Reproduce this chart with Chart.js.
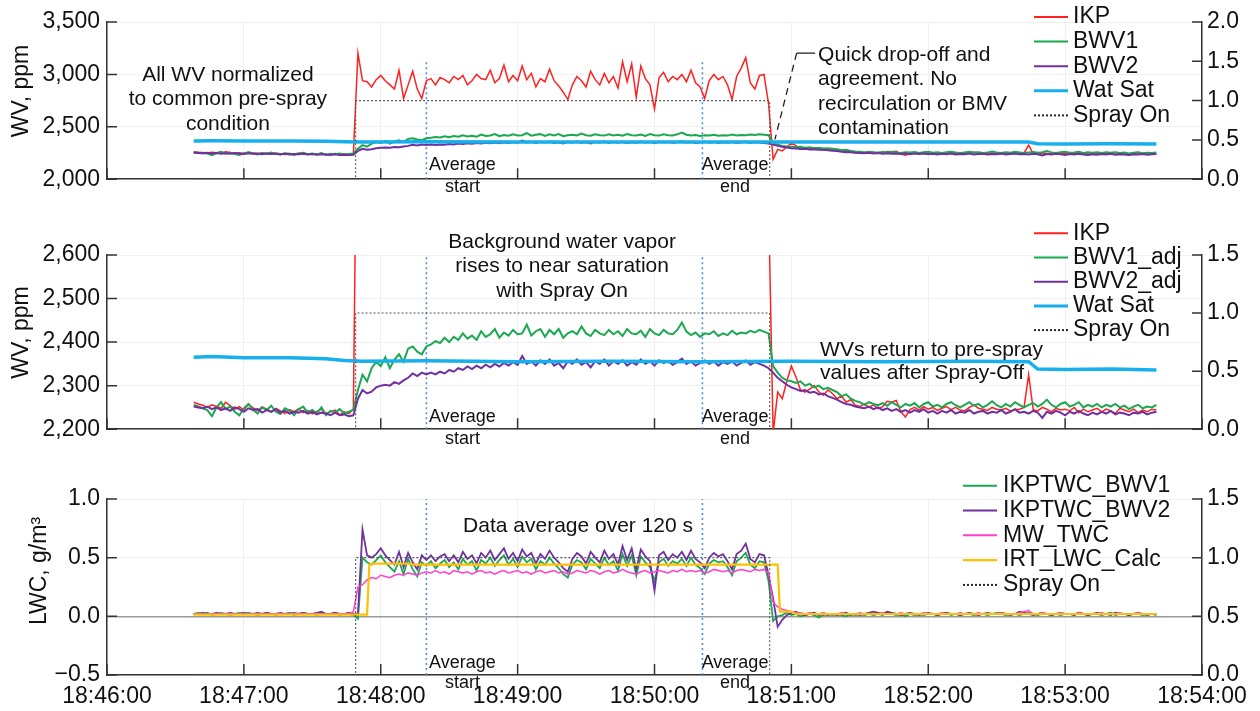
<!DOCTYPE html>
<html>
<head>
<meta charset="utf-8">
<script src="https://cdn.jsdelivr.net/npm/chart.js"></script>
<style>
  body { margin: 0; background: #fff; width: 1260px; height: 711px; overflow: hidden; position: relative; }
  canvas { position: absolute; left: 0; }
</style>
</head>
<body>
<canvas id="c1" width="1260" height="200" style="top:0px"></canvas>
<canvas id="c2" width="1260" height="250" style="top:200px"></canvas>
<canvas id="c3" width="1260" height="261" style="top:450px"></canvas>
<script>
// seconds after 18:46:00
const T = [
  38,40,42,44,46,48,50,52,54,56,
  58,60,62,64,66,68,70,72,74,76,
  78,80,82,84,86,88,90,92,94,96,
  98,100,102,104,106,108,110,112,114,116,
  118,120,122,124,126,128,130,132,134,136,
  138,140,142,144,146,148,150,152,154,156,
  158,160,162,164,166,168,170,172,174,176,
  178,180,182,184,186,188,190,192,194,196,
  198,200,202,204,206,208,210,212,214,216,
  218,220,222,224,226,228,230,232,234,236,
  238,240,242,244,246,248,250,252,254,256,
  258,260,262,264,266,268,270,272,274,276,
  278,280,282,284,286,288,290,292,294,296,
  298,300,302,304,306,308,310,312,314,316,
  318,320,322,324,326,328,330,332,334,336,
  338,340,342,344,346,348,350,352,354,356,
  358,360,362,364,366,368,370,372,374,376,
  378,380,382,384,386,388,390,392,394,396,
  398,400,402,404,406,408,410,412,414,416,
  418,420,422,424,426,428,430,432,434,436,
  438,440,442,444,446,448,450,452,454,456,
  458,460
];

// water vapour, ppm
const IKP = [
  2262,2258,2255,2250,2256,2252,2248,2262,2254,2246,
  2252,2244,2257,2249,2243,2251,2246,2240,2248,2242,
  2236,2245,2240,2247,2238,2243,2235,2241,2246,2236,
  2240,2244,2233,2240,2236,2246,3200,2940,2930,2880,
  2950,2990,2940,2900,2860,3040,2770,2900,3030,2860,
  2770,2940,2960,2900,2970,2950,2920,2980,2950,2990,
  2900,2940,3000,2960,2950,3040,2920,2960,3090,2930,
  2990,2940,3080,2950,3010,2880,2960,2930,3050,2940,
  2890,2830,2760,2900,2980,2940,2880,3030,2950,2900,
  3010,2920,2980,2870,3120,2930,3100,2780,3080,2960,
  2900,2670,2970,3020,2930,2980,2950,3000,2930,3040,
  2920,2880,2770,2940,3000,2950,2980,2900,2760,2980,
  3060,3160,2920,2860,2990,3000,2720,2190,2285,2270,
  2310,2345,2320,2290,2285,2292,2300,2286,2278,2290,
  2282,2270,2276,2262,2268,2255,2252,2258,2250,2256,
  2247,2252,2264,2262,2266,2240,2228,2245,2250,2244,
  2252,2246,2250,2243,2248,2252,2245,2250,2244,2242,
  2250,2256,2248,2246,2243,2250,2246,2244,2248,2242,
  2245,2246,2250,2325,2245,2242,2250,2246,2240,2248,
  2244,2246,2242,2250,2238,2246,2240,2244,2248,2240,
  2246,2242,2236,2248,2244,2240,2246,2238,2244,2240,
  2246,2244
];
const BWV1 = [
  2256,2252,2248,2244,2230,2250,2262,2246,2252,2240,
  2232,2248,2258,2245,2236,2250,2244,2254,2240,2235,
  2248,2243,2232,2246,2252,2238,2244,2236,2250,2232,
  2242,2238,2246,2236,2240,2245,2290,2325,2310,2340,
  2355,2345,2365,2340,2360,2372,2355,2385,2390,2378,
  2372,2390,2395,2402,2398,2410,2400,2412,2405,2420,
  2408,2415,2405,2425,2412,2418,2430,2410,2422,2415,
  2428,2418,2420,2440,2415,2425,2430,2412,2428,2418,
  2430,2410,2420,2425,2418,2436,2420,2414,2428,2420,
  2416,2428,2418,2425,2414,2430,2420,2418,2426,2412,
  2430,2420,2416,2428,2420,2418,2428,2445,2424,2416,
  2422,2412,2420,2418,2425,2414,2420,2416,2426,2418,
  2422,2420,2426,2422,2428,2424,2420,2345,2330,2318,
  2312,2310,2306,2310,2300,2304,2296,2300,2292,2295,
  2290,2285,2276,2280,2270,2265,2262,2256,2262,2258,
  2255,2260,2254,2262,2256,2250,2258,2254,2260,2250,
  2258,2262,2252,2256,2250,2258,2262,2255,2250,2256,
  2262,2254,2258,2250,2256,2264,2255,2250,2258,2252,
  2262,2256,2250,2256,2260,2252,2258,2268,2256,2250,
  2258,2262,2252,2256,2262,2250,2256,2252,2258,2250,
  2256,2252,2258,2250,2254,2246,2252,2256,2248,2252,
  2250,2256
];
const BWV2 = [
  2252,2250,2248,2252,2246,2250,2244,2248,2242,2250,
  2246,2240,2248,2244,2246,2238,2244,2240,2246,2238,
  2242,2236,2240,2238,2242,2236,2240,2234,2238,2236,
  2232,2238,2232,2234,2230,2232,2270,2290,2282,2286,
  2296,2300,2302,2300,2308,2304,2312,2318,2328,2322,
  2330,2326,2330,2326,2332,2328,2336,2332,2340,2336,
  2344,2338,2346,2340,2348,2342,2350,2344,2352,2346,
  2354,2348,2368,2350,2356,2346,2358,2350,2360,2346,
  2352,2340,2356,2350,2360,2348,2354,2342,2356,2350,
  2360,2346,2356,2350,2358,2346,2354,2348,2360,2350,
  2356,2346,2358,2352,2356,2348,2354,2362,2350,2356,
  2346,2352,2358,2350,2356,2346,2354,2350,2356,2346,
  2352,2358,2348,2354,2350,2346,2340,2330,2318,2310,
  2302,2296,2292,2288,2290,2284,2286,2280,2282,2276,
  2272,2268,2262,2258,2256,2252,2250,2248,2252,2246,
  2250,2244,2248,2242,2246,2240,2244,2238,2244,2240,
  2246,2238,2242,2236,2242,2238,2244,2236,2240,2238,
  2244,2236,2240,2242,2236,2240,2238,2244,2236,2240,
  2246,2238,2240,2236,2242,2238,2226,2240,2236,2242,
  2238,2232,2240,2236,2242,2236,2232,2238,2234,2240,
  2236,2242,2234,2238,2236,2232,2238,2236,2240,2234,
  2238,2240
];
const WAT_T = [38, 46, 60, 80, 96, 104, 112, 140, 180, 220, 260, 300, 340, 380, 404, 408, 420, 440, 460];
const WAT_V = [2365, 2367, 2364, 2364, 2362, 2358, 2356, 2357, 2355, 2356, 2355, 2356, 2355, 2356, 2355, 2338, 2337, 2338, 2336];

// liquid water content, g/m3
const TWC1 = [
  0.02,0.03,0.02,0.03,0.01,0.02,0.03,0.02,0.01,0.02,
  0.03,0.02,0.03,0.02,0.01,0.02,0.03,0.02,0.01,0.02,
  0.02,0.03,0.01,0.02,0.03,0.02,0.02,0.01,0.03,0.02,
  0.02,0.03,0.01,0.02,0.02,0.01,-0.02,0.50,0.46,0.44,
  0.48,0.52,0.46,0.42,0.38,0.47,0.36,0.49,0.40,0.34,
  0.46,0.43,0.47,0.41,0.45,0.48,0.42,0.46,0.40,0.49,
  0.44,0.47,0.39,0.48,0.45,0.50,0.43,0.48,0.52,0.44,
  0.49,0.42,0.51,0.46,0.49,0.40,0.47,0.44,0.50,0.45,
  0.41,0.36,0.33,0.44,0.48,0.46,0.40,0.49,0.45,0.41,
  0.50,0.44,0.47,0.39,0.53,0.43,0.52,0.35,0.51,0.46,
  0.42,0.30,0.46,0.49,0.43,0.47,0.45,0.49,0.43,0.50,
  0.44,0.41,0.36,0.45,0.48,0.46,0.47,0.42,0.35,0.47,
  0.50,0.54,0.44,0.41,0.47,0.46,0.30,-0.04,0.00,0.01,
  0.03,0.01,0.02,0.00,0.01,0.02,0.01,-0.01,0.01,0.02,
  0.01,0.02,0.01,0.00,0.02,0.01,0.02,0.01,0.02,0.01,
  0.02,0.01,0.03,0.02,0.01,0.02,0.00,0.02,0.01,0.02,
  0.01,0.02,0.02,0.01,0.02,0.03,0.01,0.02,0.01,0.02,
  0.02,0.01,0.02,0.02,0.01,0.02,0.03,0.02,0.01,0.02,
  0.02,0.01,0.02,0.03,0.02,0.01,0.02,0.02,0.01,0.02,
  0.01,0.02,0.02,0.01,0.03,0.02,0.01,0.02,0.02,0.01,
  0.02,0.03,0.01,0.02,0.02,0.01,0.02,0.02,0.01,0.02,
  0.02,0.01
];
const TWC2 = [
  0.02,0.02,0.03,0.02,0.02,0.03,0.02,0.02,0.03,0.02,
  0.02,0.03,0.02,0.02,0.03,0.02,0.03,0.02,0.02,0.03,
  0.02,0.02,0.03,0.02,0.03,0.02,0.02,0.03,0.04,0.02,
  0.02,0.03,0.02,0.02,0.03,0.02,0.02,0.74,0.52,0.50,
  0.53,0.58,0.52,0.48,0.44,0.55,0.42,0.54,0.46,0.40,
  0.52,0.48,0.52,0.47,0.51,0.53,0.47,0.52,0.46,0.55,
  0.49,0.52,0.45,0.54,0.50,0.56,0.48,0.53,0.58,0.49,
  0.54,0.47,0.57,0.51,0.54,0.45,0.53,0.49,0.56,0.50,
  0.46,0.41,0.38,0.49,0.54,0.51,0.45,0.55,0.50,0.46,
  0.56,0.49,0.53,0.44,0.60,0.48,0.58,0.40,0.57,0.51,
  0.47,0.22,0.52,0.55,0.48,0.53,0.50,0.55,0.48,0.56,
  0.49,0.46,0.41,0.50,0.54,0.51,0.53,0.47,0.40,0.53,
  0.56,0.62,0.49,0.46,0.53,0.52,0.35,0.15,-0.09,-0.03,
  0.01,0.03,0.04,0.02,0.01,0.02,0.03,0.01,0.02,0.01,
  0.02,0.01,0.02,0.03,0.01,0.02,0.01,0.02,0.03,0.04,
  0.03,0.02,0.04,0.03,0.02,0.01,0.02,0.03,0.02,0.01,
  0.02,0.03,0.02,0.01,0.02,0.03,0.02,0.02,0.01,0.02,
  0.03,0.02,0.01,0.02,0.03,0.02,0.02,0.03,0.02,0.01,
  0.02,0.04,0.03,0.02,0.01,0.02,0.03,0.02,0.01,0.02,
  0.03,0.02,0.02,0.01,0.03,0.02,0.01,0.02,0.03,0.02,
  0.02,0.01,0.03,0.02,0.02,0.01,0.02,0.03,0.02,0.01,
  0.02,0.02
];
const MW_TWC = [
  0.02,0.02,0.02,0.02,0.02,0.02,0.02,0.02,0.02,0.02,
  0.02,0.02,0.02,0.02,0.02,0.02,0.02,0.02,0.02,0.02,
  0.02,0.02,0.02,0.02,0.02,0.02,0.02,0.02,0.02,0.02,
  0.02,0.02,0.02,0.02,0.02,0.04,0.25,0.27,0.31,0.33,
  0.32,0.35,0.34,0.33,0.35,0.36,0.35,0.37,0.36,0.35,
  0.37,0.38,0.37,0.39,0.37,0.38,0.36,0.39,0.38,0.37,
  0.38,0.36,0.38,0.39,0.37,0.38,0.36,0.38,0.39,0.37,
  0.38,0.39,0.37,0.38,0.36,0.38,0.39,0.37,0.38,0.39,
  0.37,0.38,0.36,0.37,0.39,0.38,0.37,0.39,0.38,0.36,
  0.38,0.39,0.37,0.38,0.40,0.38,0.37,0.36,0.38,0.39,
  0.37,0.38,0.39,0.38,0.37,0.39,0.38,0.40,0.38,0.39,
  0.38,0.39,0.37,0.38,0.40,0.39,0.38,0.39,0.37,0.39,
  0.40,0.39,0.38,0.40,0.39,0.40,0.37,0.12,0.08,0.06,
  0.05,0.04,0.03,0.03,0.02,0.03,0.02,0.02,0.03,0.02,
  0.02,0.02,0.03,0.02,0.02,0.02,0.03,0.02,0.02,0.02,
  0.02,0.03,0.02,0.02,0.02,0.03,0.02,0.02,0.02,0.02,
  0.03,0.02,0.02,0.02,0.03,0.02,0.02,0.02,0.03,0.02,
  0.02,0.02,0.03,0.02,0.02,0.02,0.02,0.03,0.02,0.02,
  0.02,0.03,0.04,0.05,0.02,0.02,0.03,0.02,0.02,0.02,
  0.03,0.02,0.02,0.02,0.03,0.02,0.02,0.02,0.02,0.03,
  0.02,0.02,0.02,0.03,0.02,0.02,0.02,0.03,0.02,0.02,
  0.02,0.02
];
const IRT_T = [38, 114, 115, 116, 132, 134, 294, 295, 300, 302, 460];
const IRT_V = [0.015, 0.015, 0.44, 0.45, 0.45, 0.44, 0.44, 0.04, 0.04, 0.02, 0.02];

// spray on/off (right axis) and averaging window
const SPRAY_T = [38, 109, 109, 290.5, 290.5, 460.5];
const SPRAY_V = [0, 0, 1, 1, 0, 0];
const AVG_T = [140, 261];

const T0 = 18 * 3600 + 46 * 60;
const FONT = '"Liberation Sans", Arial, sans-serif';
Chart.defaults.font.family = FONT;
Chart.defaults.color = '#111';

const pts = (ts, vs) => ts.map((t, i) => ({x: t, y: vs[i]}));
const pad2 = n => String(n).padStart(2, '0');
const fmtTime = v => {
  const s = T0 + v;
  return pad2(Math.floor(s / 3600)) + ':' + pad2(Math.floor(s / 60) % 60) + ':' + pad2(s % 60);
};

function line(label, data, color, width, extra) {
  return Object.assign({label, data, borderColor: color, backgroundColor: color,
    borderWidth: width, pointRadius: 0, tension: 0, fill: false}, extra || {});
}
function sprayLine() {
  return line('Spray On', pts(SPRAY_T, SPRAY_V), '#555', 1.1, {yAxisID: 'y1', borderDash: [2, 2], order: 2});
}
function avgLines(lo, hi) {
  return AVG_T.map(t => line('_avg', [{x: t, y: lo}, {x: t, y: hi}], '#4a8fe0', 1.6, {borderDash: [2, 3], order: 9}));
}

// draws inward ticks, text notes and the legend
function deco(cfg) {
  return {
    id: 'deco',
    afterDraw(chart) {
      const {ctx, scales: {x, y, y1}} = chart;
      ctx.save();
      ctx.strokeStyle = '#333';
      ctx.lineWidth = 1.5;
      ctx.beginPath();
      x.ticks.forEach(tk => {
        const p = x.getPixelForValue(tk.value);
        ctx.moveTo(p, x.top); ctx.lineTo(p, x.top - 11);
      });
      y.ticks.forEach(tk => {
        const p = y.getPixelForValue(tk.value);
        ctx.moveTo(y.right, p); ctx.lineTo(y.right + 10, p);
      });
      y1.ticks.forEach(tk => {
        const p = y1.getPixelForValue(tk.value);
        ctx.moveTo(y1.left, p); ctx.lineTo(y1.left - 10, p);
      });
      ctx.stroke();

      (cfg.leaders || []).forEach(l => {
        ctx.setLineDash(l.dash);
        ctx.lineWidth = 1.3;
        ctx.strokeStyle = '#222';
        ctx.beginPath();
        ctx.moveTo(x.getPixelForValue(l.a[0]), y.getPixelForValue(l.a[1]));
        ctx.lineTo(x.getPixelForValue(l.b[0]), y.getPixelForValue(l.b[1]));
        ctx.stroke();
      });
      ctx.setLineDash([]);

      ctx.fillStyle = '#111';
      ctx.textBaseline = 'middle';
      cfg.notes.forEach(n => {
        ctx.font = n.size + 'px ' + FONT;
        ctx.textAlign = n.align;
        const px = x.getPixelForValue(n.t), py = y.getPixelForValue(n.v);
        n.lines.forEach((s, i) => ctx.fillText(s, px, py + i * n.lh));
      });

      const L = cfg.legend;
      ctx.font = '23px ' + FONT;
      ctx.textAlign = 'left';
      chart.data.datasets.filter(d => !d.label.startsWith('_')).forEach((d, i) => {
        const yy = L.y + i * L.dy;
        ctx.strokeStyle = d.borderDash ? '#222' : d.borderColor;
        ctx.lineWidth = Math.min(Math.max(d.borderWidth, 2), 3);
        ctx.setLineDash(d.borderDash ? [2, 2] : []);
        ctx.beginPath(); ctx.moveTo(L.x0, yy); ctx.lineTo(L.x1, yy); ctx.stroke();
        ctx.setLineDash([]);
        ctx.fillStyle = '#111';
        ctx.fillText(d.label, L.tx, yy);
      });
      ctx.restore();
    }
  };
}

function panel(id, cfg) {
  return new Chart(document.getElementById(id), {
    type: 'line',
    data: {datasets: cfg.datasets},
    options: {
      responsive: false,
      animation: false,
      events: [],
      devicePixelRatio: 1,
      layout: {padding: {top: cfg.padTop, left: 0, right: 0, bottom: 0}},
      plugins: {legend: {display: false}, tooltip: {enabled: false}},
      scales: {
        x: {
          type: 'linear', min: 0, max: 480,
          afterFit: s => { s.height = cfg.xh; },
          ticks: {display: cfg.xLabels, stepSize: 60, autoSkip: false, maxRotation: 0, padding: 8,
                  font: {size: 23}, callback: fmtTime},
          grid: {color: '#f0f0f0', drawTicks: false},
          border: {color: '#333', width: 1.5}
        },
        y: {
          position: 'left', min: cfg.yMin, max: cfg.yMax,
          afterFit: s => { s.width = 107; },
          ticks: {stepSize: cfg.yStep, padding: 7, font: {size: 23}, callback: cfg.yFmt},
          // leading spaces lift the rotated title a little above the panel centre
          title: {display: true, text: cfg.yTitle, font: {size: 23}, padding: {top: cfg.titlePad, bottom: 0}},
          grid: {color: cfg.gridColor || '#f0f0f0', lineWidth: cfg.gridWidth || 1, drawTicks: false},
          border: {color: '#333', width: 1.5}
        },
        y1: {
          position: 'right', min: 0, max: cfg.y1Max,
          afterFit: s => { s.width = 58; },
          ticks: {stepSize: 0.5, padding: 5, font: {size: 23}, callback: v => v.toFixed(1)},
          grid: {display: false, drawTicks: false},
          border: {color: '#333', width: 1.5}
        }
      }
    },
    plugins: [deco(cfg)]
  });
}

const commas = v => v.toLocaleString('en-US');

panel('c1', {
  padTop: 22, xh: 20, xLabels: false,
  yMin: 2000, yMax: 3500, yStep: 500, yFmt: commas, yTitle: '   WV, ppm', titlePad: 8, y1Max: 2,
  datasets: [
    line('IKP', pts(T, IKP), '#ff2020', 1.5, {order: 6}),
    line('BWV1', pts(T, BWV1), '#1aa851', 2, {order: 5}),
    line('BWV2', pts(T, BWV2), '#7030a0', 2, {order: 4}),
    line('Wat Sat', pts(WAT_T, WAT_V), '#17b0ec', 3.5, {order: 3}),
    sprayLine(),
    ...avgLines(2000, 3140)
  ],
  notes: [
    {t: 53, v: 2997, align: 'center', size: 21, lh: 24.5, lines: ['All WV normalized', 'to common pre-spray', 'condition']},
    {t: 311.7, v: 3187, align: 'left', size: 21, lh: 24.5, lines: ['Quick drop-off and', 'agreement. No', 'recirculation or BMV', 'contamination']},
    {t: 155.8, v: 2136, align: 'center', size: 18, lh: 22, lines: ['Average', 'start']},
    {t: 275.3, v: 2136, align: 'center', size: 18, lh: 22, lines: ['Average', 'end']}
  ],
  leaders: [
    {a: [302.3, 3203], b: [310.4, 3203], dash: []},
    {a: [302.3, 3203], b: [292.8, 2380], dash: [7, 5]}
  ],
  legend: {x0: 1034, x1: 1068, tx: 1073, y: 17, dy: 24.6}
});

panel('c2', {
  padTop: 55, xh: 18, xLabels: false,
  yMin: 2200, yMax: 2600, yStep: 100, yFmt: commas, yTitle: '   WV, ppm', titlePad: 8, y1Max: 1.5,
  datasets: [
    line('IKP', pts(T, IKP), '#ff2020', 1.5, {order: 6}),
    line('BWV1_adj', pts(T, BWV1), '#1aa851', 2, {order: 5}),
    line('BWV2_adj', pts(T, BWV2), '#7030a0', 2, {order: 4}),
    line('Wat Sat', pts(WAT_T, WAT_V), '#17b0ec', 3.5, {order: 3}),
    sprayLine(),
    ...avgLines(2200, 2600)
  ],
  notes: [
    {t: 199.5, v: 2630, align: 'center', size: 21, lh: 24.5, lines: ['Background water vapor', 'rises to near saturation', 'with Spray On']},
    {t: 155.8, v: 2227, align: 'center', size: 18, lh: 21.7, lines: ['Average', 'start']},
    {t: 275.3, v: 2227, align: 'center', size: 18, lh: 21.7, lines: ['Average', 'end']},
    {t: 312.6, v: 2381.5, align: 'left', size: 21, lh: 23.3, lines: ['WVs return to pre-spray', 'values after Spray-Off']}
  ],
  legend: {x0: 1034, x1: 1068, tx: 1073, y: 33.3, dy: 24.2}
});

panel('c3', {
  padTop: 49, xh: 36, xLabels: true,
  yMin: -0.5, yMax: 1, yStep: 0.5, yFmt: v => (v < 0 ? '\u2212' : '') + Math.abs(v).toFixed(1),
  yTitle: '     LWC, g/m\u00b3', titlePad: 26, y1Max: 1.5,
  gridColor: c => (c.tick && c.tick.value === 0 ? '#9a9a9a' : '#f0f0f0'),
  gridWidth: c => (c.tick && c.tick.value === 0 ? 1.5 : 1),
  datasets: [
    line('IKPTWC_BWV1', pts(T, TWC1), '#1aa851', 1.8, {order: 6}),
    line('IKPTWC_BWV2', pts(T, TWC2), '#7030a0', 1.8, {order: 5}),
    line('MW_TWC', pts(T, MW_TWC), '#ff40d0', 1.5, {order: 4}),
    line('IRT_LWC_Calc', pts(IRT_T, IRT_V), '#ffc000', 2.2, {order: 3}),
    sprayLine(),
    ...avgLines(-0.5, 1)
  ],
  notes: [
    {t: 206.5, v: 0.764, align: 'center', size: 21, lh: 24.5, lines: ['Data average over 120 s']},
    {t: 155.8, v: -0.395, align: 'center', size: 18, lh: 20.6, lines: ['Average', 'start']},
    {t: 275.3, v: -0.395, align: 'center', size: 18, lh: 20.6, lines: ['Average', 'end']}
  ],
  legend: {x0: 963, x1: 997, tx: 1003, y: 35.7, dy: 24.8}
});
</script>
</body>
</html>
